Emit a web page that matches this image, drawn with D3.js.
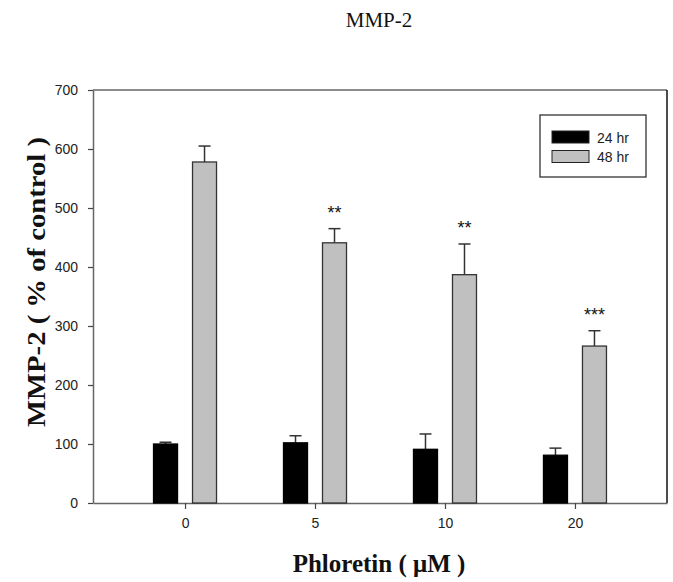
<!DOCTYPE html>
<html>
<head>
<meta charset="utf-8">
<script src="https://cdn.jsdelivr.net/npm/d3@7"></script>
<style>
  html, body { margin: 0; padding: 0; background: #fff; }
  svg { display: block; }
</style>
</head>
<body>
<script>
const categories = ["0", "5", "10", "20"];
const series = ["24 hr", "48 hr"];
const values24 = [100, 102, 91, 81];
const errors24 = [3, 12, 26, 12];
const values48 = [578, 441, 387, 266];
const errors48 = [27, 24, 52, 26];
const stars48 = ["", "**", "**", "***"];
const yTicks = [0, 100, 200, 300, 400, 500, 600, 700];

const W = 673, H = 582;
const pLeft = 93, pRight = 667, pTop = 90, pBottom = 503;

const svg = d3.select("body").append("svg").attr("width", W).attr("height", H);

const x = d3.scalePoint().domain(categories).range([pLeft, pRight]).padding(0.708);
const y = d3.scaleLinear().domain([0, 700]).range([pBottom, pTop]);
const offset = 19.5, bw = 24;

const colors = ["#000000", "#c0c0c0"];

// frame top/right
svg.append("line").attr("x1", pLeft).attr("x2", pRight).attr("y1", pTop).attr("y2", pTop)
  .attr("stroke", "#666").attr("stroke-width", 1.5);
svg.append("line").attr("x1", pRight).attr("x2", pRight).attr("y1", pTop).attr("y2", pBottom)
  .attr("stroke", "#111").attr("stroke-width", 1.5);

// axes
const yAxis = svg.append("g").attr("transform", `translate(${pLeft},0)`)
  .call(d3.axisLeft(y).tickValues(yTicks).tickSize(5).tickSizeOuter(0).tickPadding(10));
const xAxis = svg.append("g").attr("transform", `translate(0,${pBottom})`)
  .call(d3.axisBottom(x).tickSize(6).tickSizeOuter(0).tickPadding(9));
[yAxis, xAxis].forEach(g => {
  g.select(".domain").attr("stroke", "#666").attr("stroke-width", 1.5);
  g.selectAll(".tick line").attr("stroke", "#444").attr("stroke-width", 1.2);
  g.selectAll("text").attr("font-family", "Liberation Sans, Arial, sans-serif")
    .attr("font-size", 14).attr("fill", "#222");
});

function drawSeries(vals, errs, dx, color) {
  const g = svg.append("g");
  categories.forEach((c, i) => {
    const cx = x(c) + dx;
    g.append("line").attr("x1", cx).attr("x2", cx)
      .attr("y1", y(vals[i])).attr("y2", y(vals[i] + errs[i]))
      .attr("stroke", "#333").attr("stroke-width", 1.5);
    g.append("line").attr("x1", cx - 6).attr("x2", cx + 6)
      .attr("y1", y(vals[i] + errs[i])).attr("y2", y(vals[i] + errs[i]))
      .attr("stroke", "#333").attr("stroke-width", 1.5);
    g.append("rect").attr("x", cx - bw / 2).attr("y", y(vals[i]))
      .attr("width", bw).attr("height", y(0) - y(vals[i]))
      .attr("fill", color).attr("stroke", color === "#000000" ? "#000" : "#333").attr("stroke-width", 1.3);
  });
}
drawSeries(values24, errors24, -offset, colors[0]);
drawSeries(values48, errors48, offset, colors[1]);

// stars
categories.forEach((c, i) => {
  if (!stars48[i]) return;
  svg.append("text").attr("x", x(c) + offset).attr("y", y(values48[i] + errors48[i]) - 10)
    .attr("text-anchor", "middle").attr("font-family", "Liberation Sans, Arial, sans-serif")
    .attr("font-size", 18).attr("fill", "#111").text(stars48[i]);
});

// legend
const lg = svg.append("g");
lg.append("rect").attr("x", 540).attr("y", 115).attr("width", 106).attr("height", 62)
  .attr("fill", "#fff").attr("stroke", "#222").attr("stroke-width", 1.2);
series.forEach((s, i) => {
  const yy = 131 + i * 19.5;
  lg.append("rect").attr("x", 552).attr("y", yy).attr("width", 37).attr("height", 12)
    .attr("fill", colors[i]).attr("stroke", "#222").attr("stroke-width", 1);
  lg.append("text").attr("x", 597).attr("y", yy + 11.5)
    .attr("font-family", "Liberation Sans, Arial, sans-serif").attr("font-size", 14)
    .attr("fill", "#222").text(s);
});

// title
svg.append("text").attr("x", 379).attr("y", 27).attr("text-anchor", "middle")
  .attr("font-family", "Liberation Serif, Times New Roman, serif").attr("font-size", 21)
  .attr("fill", "#111").text("MMP-2");

// x label
svg.append("text").attr("x", 379).attr("y", 572).attr("text-anchor", "middle")
  .attr("font-family", "Liberation Serif, Times New Roman, serif").attr("font-weight", "bold")
  .attr("font-size", 25).attr("fill", "#111").text("Phloretin ( μM )");

// y label
svg.append("text").attr("transform", "translate(45,282) rotate(-90)").attr("text-anchor", "middle")
  .attr("font-family", "Liberation Serif, Times New Roman, serif").attr("font-weight", "bold")
  .attr("font-size", 26).attr("textLength", 290).attr("lengthAdjust", "spacingAndGlyphs")
  .attr("fill", "#111").text("MMP-2 ( % of control )");
</script>
</body>
</html>
